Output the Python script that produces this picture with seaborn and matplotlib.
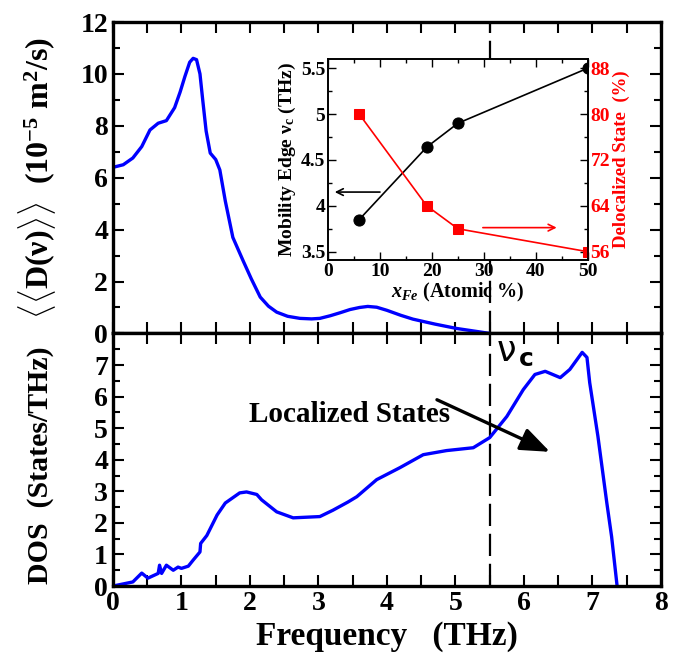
import matplotlib
matplotlib.use("Agg")
import matplotlib.pyplot as plt
from matplotlib.ticker import MultipleLocator
import seaborn as sns

# diffusivity <<D(nu)>> (top panel)
diff_freq = [0.0, 0.15, 0.29, 0.42, 0.54, 0.66, 0.78, 0.9, 0.98, 1.05, 1.12, 1.17, 1.22, 1.27,
             1.31, 1.36, 1.42, 1.5, 1.56, 1.64, 1.75, 1.9, 2.02, 2.15, 2.27, 2.39, 2.55, 2.73,
             2.9, 3.02, 3.17, 3.32, 3.46, 3.6, 3.72, 3.85, 4.0, 4.2, 4.38, 4.7, 5.02, 5.3, 5.5]
diff_val = [6.4, 6.5, 6.76, 7.2, 7.84, 8.1, 8.2, 8.7, 9.3, 9.9, 10.45, 10.6, 10.55, 10.0,
            9.0, 7.8, 6.95, 6.7, 6.3, 5.1, 3.7, 2.8, 2.1, 1.4, 1.05, 0.82, 0.66, 0.58,
            0.56, 0.58, 0.68, 0.8, 0.92, 1.0, 1.04, 1.01, 0.89, 0.7, 0.55, 0.36, 0.19, 0.08, 0.0]

# vibrational DOS (bottom panel)
dos_freq = [0.0, 0.29, 0.42, 0.51, 0.61, 0.66, 0.68, 0.71, 0.78, 0.88, 0.95, 1.0, 1.1, 1.17,
            1.27, 1.28, 1.37, 1.52, 1.64, 1.85, 1.95, 2.1, 2.17, 2.39, 2.63, 3.02, 3.21, 3.43,
            3.56, 3.85, 4.19, 4.53, 4.87, 5.26, 5.5, 5.75, 5.99, 6.16, 6.31, 6.53, 6.67, 6.85,
            6.92, 6.96, 7.08, 7.21, 7.28, 7.36]
dos_val = [0.0, 0.13, 0.41, 0.25, 0.35, 0.4, 0.66, 0.4, 0.66, 0.5, 0.6, 0.56, 0.63, 0.82,
           1.08, 1.35, 1.6, 2.25, 2.63, 2.95, 2.98, 2.9, 2.73, 2.35, 2.16, 2.2, 2.4, 2.66,
           2.83, 3.37, 3.75, 4.16, 4.29, 4.38, 4.7, 5.37, 6.22, 6.7, 6.8, 6.6, 6.86, 7.4,
           7.24, 6.44, 4.74, 2.63, 1.56, 0.0]

# inset: mobility edge and delocalized fraction vs Fe content
x_fe = [6, 19, 25, 50]
mobility_edge = [3.85, 4.64, 4.9, 5.5]
delocalized = [80, 64, 60, 56]

MOBILITY_EDGE = 5.5

sns.set_theme(style="ticks")
plt.rcParams.update({
    "font.family": ["Liberation Serif", "DejaVu Serif"],
    "font.weight": "bold",
    "axes.labelweight": "bold",
    "text.color": "black",
    "axes.labelcolor": "black",
    "xtick.labelcolor": "black",
    "ytick.labelcolor": "black",
    "mathtext.fontset": "custom",
    "mathtext.rm": "Liberation Serif:bold",
    "mathtext.bf": "Liberation Serif:bold",
    "mathtext.it": "Liberation Serif:italic:bold",
    "axes.linewidth": 2.4,
    "axes.edgecolor": "black",
    "xtick.direction": "in",
    "ytick.direction": "in",
    "xtick.top": True,
    "ytick.right": True,
    "xtick.color": "black",
    "ytick.color": "black",
})

fig = plt.figure(figsize=(6.91, 6.57), dpi=100)
ax1 = fig.add_axes([0.1635, 0.4925, 0.793, 0.474])
ax2 = fig.add_axes([0.1635, 0.108, 0.793, 0.3845])

sns.lineplot(x=diff_freq, y=diff_val, ax=ax1, color="#0000ff", lw=2.4, sort=False)
sns.lineplot(x=dos_freq, y=dos_val, ax=ax2, color="#0000ff", lw=2.4, sort=False)

for ax in (ax1, ax2):
    ax.axvline(MOBILITY_EDGE, color="black", lw=1.6, ls=(0, (10, 3.5)), zorder=1)
    ax.set_xlim(0, 8)
    ax.xaxis.set_major_locator(MultipleLocator(1))
    ax.xaxis.set_minor_locator(MultipleLocator(0.5))
    ax.tick_params(which="major", length=8, width=1.5, labelsize=20)
    ax.tick_params(which="minor", length=8, width=1.5)
    ax.tick_params(axis="y", which="minor", length=5)

ax1.set_ylim(0, 12)
ax1.yaxis.set_major_locator(MultipleLocator(2))
ax1.yaxis.set_minor_locator(MultipleLocator(1))
ax1.tick_params(axis="x", labelbottom=False)
ax1.set_ylabel(r"$\langle\langle$D(ν)$\rangle\rangle$  (10$^{-5}$ m$^{2}$/s)", fontsize=23)
ax1.yaxis.set_label_coords(-0.1, 0.5)

ax2.set_ylim(0, 8)
ax2.set_yticks(range(0, 8))
ax2.yaxis.set_minor_locator(MultipleLocator(0.5))
ax2.set_ylabel("DOS  (States/THz)", fontsize=21.5)
ax2.yaxis.set_label_coords(-0.108, 0.48)
ax2.set_xlabel("Frequency   (THz)", fontsize=24, labelpad=4)

ax2.text(3.46, 5.43, "Localized States", fontsize=21, fontweight="bold",
         ha="center", va="center")
ax2.annotate("", xy=(6.38, 4.25), xytext=(4.73, 5.9),
             arrowprops=dict(arrowstyle="-|>,head_length=0.9,head_width=0.35",
                             color="black", lw=2.4, mutation_scale=20, shrinkA=0, shrinkB=0))
ax2.text(5.6, 7.45, "ν", fontsize=25, family="DejaVu Sans", fontweight="normal",
         ha="left", va="center")
ax2.text(5.93, 7.2, "c", fontsize=18, family="DejaVu Sans", fontweight="bold",
         ha="left", va="center")

# inset
ins = fig.add_axes([0.4747, 0.6043, 0.376, 0.3059])
ins.set_facecolor("white")
for s in ins.spines.values():
    s.set_linewidth(1.2)
sns.lineplot(x=x_fe, y=mobility_edge, ax=ins, color="black", lw=1.2, marker="o",
             markersize=8, markeredgecolor="black")
ins.set_xlim(0, 50)
ins.set_ylim(3.41, 5.6)
ins.xaxis.set_major_locator(MultipleLocator(10))
ins.xaxis.set_minor_locator(MultipleLocator(5))
ins.yaxis.set_minor_locator(MultipleLocator(0.25))
ins.set_yticks([3.5, 4, 4.5, 5, 5.5], labels=["3.5", "4", "4.5", "5", "5.5"])
ins.tick_params(which="major", length=6, width=1, labelsize=14, right=False, pad=2)
ins.tick_params(which="minor", length=3, width=1, right=False)
ins.set_xlabel(r"$x_{Fe}$ (Atomic %)", fontsize=14.5, labelpad=1)
ins.set_ylabel(r"Mobility Edge ν$_{\mathrm{c}}$ (THz)", fontsize=14, labelpad=2)
ins.annotate("", xy=(1.3, 4.15), xytext=(10, 4.15),
             arrowprops=dict(arrowstyle="->", color="black", lw=1.2, shrinkA=0, shrinkB=0))

ins2 = ins.twinx()
sns.lineplot(x=x_fe, y=delocalized, ax=ins2, color="red", lw=1.2, marker="s",
             markersize=7, markeredgecolor="red")
ins2.set_ylim(54.56, 89.6)
ins2.set_yticks([56, 64, 72, 80, 88])
ins2.yaxis.set_minor_locator(MultipleLocator(4))
ins2.tick_params(which="major", length=6, width=1, labelsize=14, labelcolor="red", pad=2)
ins2.tick_params(which="minor", length=3, width=1)
ins2.set_ylabel("Delocalized State  (%)", fontsize=13.5, color="red", labelpad=2)
ins2.annotate("", xy=(44, 60.2), xytext=(29.8, 60.2),
              arrowprops=dict(arrowstyle="->", color="red", lw=1.2, shrinkA=0, shrinkB=0))
for s in ins2.spines.values():
    s.set_linewidth(1.2)

fig.savefig("out.png", dpi=100)
